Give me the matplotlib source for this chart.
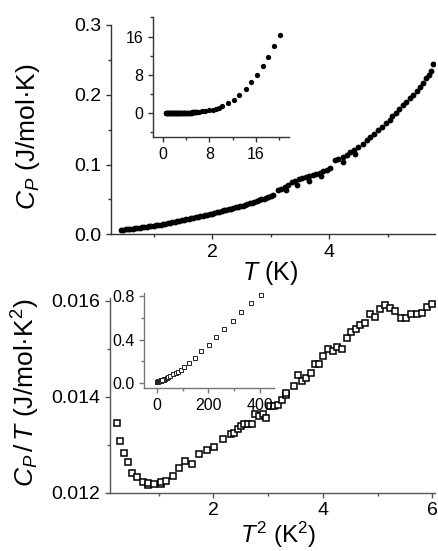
import matplotlib
matplotlib.use('Agg')
import matplotlib.pyplot as plt
from matplotlib.ticker import MultipleLocator

plt.rcParams['font.family'] = ['Liberation Sans', 'DejaVu Sans']
plt.rcParams['mathtext.fontset'] = 'custom'
plt.rcParams['mathtext.rm'] = 'Liberation Sans'
plt.rcParams['mathtext.it'] = 'Liberation Sans:italic'

# low temperature heat capacity, dense part (T in K, Cp in J/mol K)
t_low = [0.44, 0.48, 0.52, 0.56, 0.60, 0.64, 0.68, 0.72, 0.76, 0.80,
         0.84, 0.88, 0.92, 0.96, 1.00, 1.04, 1.08, 1.12, 1.16, 1.20,
         1.24, 1.28, 1.32, 1.36, 1.40, 1.44, 1.48, 1.52, 1.56, 1.60,
         1.64, 1.68, 1.72, 1.76, 1.80, 1.84, 1.88, 1.92, 1.96, 2.00,
         2.04, 2.08, 2.12, 2.16, 2.20, 2.24, 2.28, 2.32, 2.36, 2.40,
         2.44, 2.48, 2.52, 2.56, 2.60, 2.64, 2.68, 2.72, 2.76, 2.80,
         2.84, 2.88, 2.92, 2.96, 3.00, 3.04]
cp_low = [0.0061, 0.0065, 0.0069, 0.0073, 0.0077, 0.0081, 0.0085, 0.0090, 0.0094, 0.0098,
          0.0103, 0.0107, 0.0112, 0.0117, 0.0122, 0.0127, 0.0133, 0.0139, 0.0145, 0.0152,
          0.0158, 0.0165, 0.0172, 0.0178, 0.0185, 0.0192, 0.0198, 0.0205, 0.0213, 0.0220,
          0.0227, 0.0234, 0.0241, 0.0249, 0.0257, 0.0264, 0.0272, 0.0280, 0.0289, 0.0297,
          0.0305, 0.0314, 0.0323, 0.0332, 0.0341, 0.0349, 0.0358, 0.0367, 0.0375, 0.0384,
          0.0392, 0.0402, 0.0412, 0.0422, 0.0433, 0.0443, 0.0454, 0.0465, 0.0476, 0.0488,
          0.0500, 0.0512, 0.0524, 0.0537, 0.0550, 0.0563]

# above 3 K the points get sparser and scatter a bit
t_up = [3.12, 3.18, 3.24, 3.30, 3.36, 3.42, 3.48, 3.54, 3.60, 3.66,
        3.72, 3.78, 3.84, 3.90, 3.96, 4.02, 4.10, 4.16, 4.24, 4.30,
        4.36, 4.42, 4.50, 4.58, 4.64, 4.70, 4.76, 4.84, 4.90, 4.98,
        5.04, 5.08, 5.14, 5.20, 5.26, 5.32, 5.38, 5.44, 5.50, 5.55,
        5.60, 5.66, 5.70, 5.75, 5.78,
        3.27, 3.45, 3.66, 3.86, 4.24, 4.44]
cp_up = [0.0630, 0.0655, 0.0680, 0.0705, 0.0750, 0.0770, 0.0790, 0.0805, 0.0820, 0.0835,
         0.0850, 0.0865, 0.0880, 0.0900, 0.0925, 0.0950, 0.1065, 0.1080, 0.1110, 0.1140,
         0.1175, 0.1210, 0.1250, 0.1300, 0.1350, 0.1400, 0.1440, 0.1495, 0.1540, 0.1590,
         0.1640, 0.1690, 0.1740, 0.1795, 0.1850, 0.1900, 0.1950, 0.2000, 0.2060, 0.2116,
         0.2175, 0.2236, 0.2290, 0.2340, 0.2436,
         0.0640, 0.0700, 0.0770, 0.0830, 0.1030, 0.1150]

# wide range points used in the insets
t_high = [6.2, 6.7, 7.27, 7.94, 8.56, 9.16, 9.7, 10.22,
          11.1, 12.2, 13.1, 14.2, 15.1, 16.1, 17.2, 18.1, 19.1, 20.1]
cp_high = [0.30, 0.39, 0.51, 0.65, 0.78, 0.97, 1.18, 1.49,
           2.09, 2.85, 3.82, 5.0, 6.47, 8.06, 9.87, 11.8, 14.05, 16.3]

# Cp/T against T^2 (lower panel)
t2 = [0.236, 0.291, 0.364, 0.436, 0.521, 0.612, 0.715, 0.812, 0.81, 0.921,
      1.036, 1.05, 1.139, 1.255, 1.376, 1.491, 1.612, 1.745, 1.885, 2.018,
      2.17, 2.315, 2.382, 2.442, 2.497, 2.564, 2.636, 2.709, 2.764, 2.83,
      2.903, 2.97, 3.036, 3.109, 3.188, 3.255, 3.327, 3.33, 3.467, 3.552,
      3.624, 3.697, 3.782, 3.861, 3.939, 4.012, 4.097, 4.182, 4.267, 4.345,
      4.442, 4.515, 4.6, 4.685, 4.776, 4.867, 4.952, 5.048, 5.139, 5.23,
      5.321, 5.424, 5.515, 5.612, 5.715, 5.806, 5.897, 5.988]
cpt = [0.01346, 0.01308, 0.01283, 0.01263, 0.01242, 0.01232, 0.01223, 0.01216, 0.01221, 0.01218,
       0.01218, 0.01223, 0.01224, 0.01235, 0.01251, 0.01267, 0.01260, 0.01281, 0.01289, 0.01296,
       0.01311, 0.01322, 0.01325, 0.01332, 0.01340, 0.01343, 0.01343, 0.01344, 0.01364, 0.01360,
       0.01363, 0.01356, 0.01381, 0.01381, 0.01383, 0.01394, 0.01403, 0.01408, 0.01422, 0.01446,
       0.01432, 0.01438, 0.01449, 0.01468, 0.01469, 0.01485, 0.01499, 0.01495, 0.01504, 0.01499,
       0.01523, 0.01535, 0.01542, 0.01549, 0.01553, 0.01572, 0.01567, 0.01583, 0.01592, 0.01584,
       0.01579, 0.01565, 0.01563, 0.01572, 0.01572, 0.01574, 0.01586, 0.01594]


def style_axes(ax, color, width=1.0):
    for side in ['top', 'right']:
        ax.spines[side].set_visible(False)
    for side in ['left', 'bottom']:
        ax.spines[side].set_color(color)
        ax.spines[side].set_linewidth(width)
    ax.tick_params(which='both', direction='out', color=color, width=width)
    ax.tick_params(which='major', length=3.5)
    ax.tick_params(which='minor', length=2)


fig = plt.figure(figsize=(4.39, 5.51), dpi=100)

# upper panel
ax1 = fig.add_axes([0.2528, 0.5748, 0.738, 0.3799])
ax1.plot(t_low, cp_low, 'o', color='black', ms=4.2, mec='none')
ax1.plot(t_up, cp_up, 'o', color='black', ms=4.2, mec='none')
ax1.set_xlim(0.27, 5.81)
ax1.set_ylim(0, 0.3)
ax1.xaxis.set_major_locator(MultipleLocator(2))
ax1.xaxis.set_minor_locator(MultipleLocator(1))
ax1.yaxis.set_major_locator(MultipleLocator(0.1))
ax1.yaxis.set_minor_locator(MultipleLocator(0.05))
ax1.yaxis.set_major_formatter(plt.FormatStrFormatter('%.1f'))
style_axes(ax1, '#333333')
ax1.tick_params(labelsize=14)
ax1.set_ylabel('$C_P$ (J/mol·K)', fontsize=19)
ax1.set_xlabel('$T$ (K)', fontsize=18)
ax1.yaxis.set_label_coords(-0.213, 0.465)
ax1.xaxis.set_label_coords(0.49, -0.12)

# inset of the upper panel: full range
ins1 = fig.add_axes([0.3485, 0.7514, 0.3098, 0.2178])
ins1.plot(t_low + t_up + t_high, cp_low + cp_up + cp_high, 'o', color='black', ms=3.8, mec='none')
ins1.set_xlim(-1.72, 21.68)
ins1.set_ylim(-4.95, 20.1)
ins1.xaxis.set_major_locator(MultipleLocator(8))
ins1.xaxis.set_minor_locator(MultipleLocator(4))
ins1.yaxis.set_major_locator(MultipleLocator(8))
ins1.yaxis.set_minor_locator(MultipleLocator(4))
style_axes(ins1, '#333333')
ins1.tick_params(labelsize=11.5)
ins1.patch.set_alpha(0)

# lower panel
ax2 = fig.add_axes([0.2506, 0.1058, 0.7403, 0.3528])
ax2.plot(t2, cpt, 's', mfc='white', mec='black', ms=3.9, mew=1.1)
ax2.set_xlim(0.113, 6.05)
ax2.set_ylim(0.012, 0.01605)
ax2.xaxis.set_major_locator(MultipleLocator(2))
ax2.xaxis.set_minor_locator(MultipleLocator(1))
ax2.yaxis.set_major_locator(MultipleLocator(0.002))
ax2.yaxis.set_minor_locator(MultipleLocator(0.001))
ax2.yaxis.set_major_formatter(plt.FormatStrFormatter('%.3f'))
style_axes(ax2, '#555555')
ax2.tick_params(labelsize=14)
ax2.set_ylabel('$C_P\\,/\\,T$ (J/mol·K$^2$)', fontsize=19)
ax2.set_xlabel('$T^2$ (K$^2$)', fontsize=17.5)
ax2.yaxis.set_label_coords(-0.209, 0.515)
ax2.xaxis.set_label_coords(0.518, -0.14)

# inset of the lower panel: Cp/T vs T^2 over the full range
t_all = t_low + t_up + t_high
cp_all = cp_low + cp_up + cp_high
x_ins = [t * t for t in t_all]
y_ins = [c / t for c, t in zip(cp_all, t_all)]
ins2 = fig.add_axes([0.328, 0.2953, 0.2968, 0.1724])
ins2.plot(x_ins, y_ins, 's', mfc='white', mec='#222222', ms=2.6, mew=0.7)
ins2.set_xlim(-49, 455)
ins2.set_ylim(-0.046, 0.825)
ins2.xaxis.set_major_locator(MultipleLocator(200))
ins2.xaxis.set_minor_locator(MultipleLocator(100))
ins2.yaxis.set_major_locator(MultipleLocator(0.4))
ins2.yaxis.set_minor_locator(MultipleLocator(0.2))
ins2.yaxis.set_major_formatter(plt.FormatStrFormatter('%.1f'))
style_axes(ins2, '#777777')
ins2.tick_params(labelsize=11.5)
ins2.patch.set_alpha(0)

plt.savefig('out.png', dpi=100)
plt.close()
